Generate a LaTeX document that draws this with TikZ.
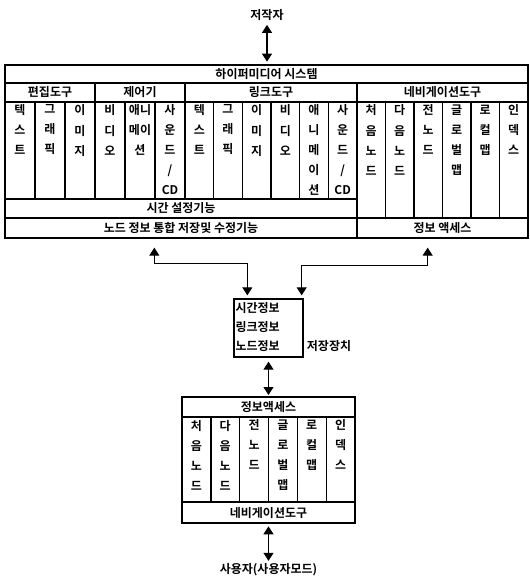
\documentclass[tikz,border=0pt]{standalone}
\usepackage{fontspec}
\setmainfont{Noto Sans CJK KR}[BoldFont={Noto Sans CJK KR Bold}]
\usepackage{tikz}
\usetikzlibrary{arrows.meta, positioning, fit, calc}

\begin{document}
\begin{tikzpicture}[
  x=0.75pt, y=-0.75pt,
  txt/.style={font=\bfseries\fontsize{9}{15}\selectfont, inner sep=0pt},
  cell/.style={draw, line width=1pt, inner sep=0pt},
  ctxt/.style={label={[txt]center:#1}},
  vtxt/.style={txt, anchor=north, align=center},
  arrow/.style={{Triangle[length=6pt,width=7.5pt]}-{Triangle[length=6pt,width=7.5pt]}, line width=0.8pt},
]
\useasboundingbox (0,0) rectangle (529,577);

% author
\node[txt] (author) at (267,15) {저작자};

% hypermedia system
\node[cell, fit={(5,65) (528,238)}] (sys) {};
\node[cell, fit={(5,65) (528,83)}, ctxt={하이퍼미디어 시스템}] (title) {};
\node[cell, fit={(5,83) (95,102)}, ctxt=편집도구] (edit) {};
\node[cell, fit={(95,83) (185,102)}, ctxt=제어기] (ctrl) {};
\node[cell, fit={(185,83) (357,102)}, ctxt=링크도구] (link) {};
\node[cell, fit={(357,83) (528,102)}, ctxt=네비게이션도구] (navi) {};

\foreach \t [count=\i from 0] in {{텍\\스\\트},{그\\래\\픽},{이\\미\\지},{비\\디\\오},{애니\\메이\\션},{사\\운\\드\\/\\CD}} {
  \node[cell, fit={({5+30*\i},102) ({35+30*\i},199)}] (ed\i) {};
  \node[vtxt] at ([yshift=-2.5pt]ed\i.north) {\t};
}
\foreach \t [count=\i from 0] in {{텍\\스\\트},{그\\래\\픽},{이\\미\\지},{비\\디\\오},{애\\니\\메\\이\\션},{사\\운\\드\\/\\CD}} {
  \node[cell, fit={({185+172/6*\i},102) ({185+172/6*(\i+1)},199)}] (lk\i) {};
  \node[vtxt] at ([yshift=-2.5pt]lk\i.north) {\t};
}
\foreach \t [count=\i from 0] in {{처\\음\\노\\드},{다\\음\\노\\드},{전\\노\\드},{글\\로\\벌\\맵},{로\\컬\\맵},{인\\덱\\스}} {
  \node[cell, fit={({357+28.5*\i},102) ({385.5+28.5*\i},218)}] (nv\i) {};
  \node[vtxt] at ([yshift=-2.5pt]nv\i.north) {\t};
}

\node[cell, fit={(5,199) (357,218)}, ctxt={시간 설정기능}] (timeset) {};
\node[cell, fit={(5,218) (357,238)}, ctxt={노드 정보 통합 저장및 수정기능}] (nodesave) {};
\node[cell, fit={(357,218) (528,238)}, ctxt={정보 액세스}] (infoacc) {};

% storage
\node[cell, fit={(234,299) (303,357)}] (store) {};
\node[txt, anchor=north west, align=left, font=\bfseries\fontsize{9}{14}\selectfont] (storeinfo)
  at ([shift={(2,4)}]store.north west) {시간정보\\링크정보\\노드정보};
\node[txt, anchor=west] (storelbl) at ([shift={(3,-12)}]store.south east) {저장장치};

% information access
\node[cell, fit={(182,397) (355,523)}] (access) {};
\node[cell, fit={(182,397) (355,417)}, ctxt=정보액세스] (acchead) {};
\foreach \t [count=\i from 0] in {{처\\음\\노\\드},{다\\음\\노\\드},{전\\노\\드},{글\\로\\벌\\맵},{로\\컬\\맵},{인\\덱\\스}} {
  \node[cell, fit={({182+173/6*\i},417) ({182+173/6*(\i+1)},502)}] (ac\i) {};
  \node[vtxt] at ([yshift=-2.5pt]ac\i.north) {\t};
}
\node[cell, fit={(182,502) (355,523)}, ctxt=네비게이션도구] (accfoot) {};

% user
\node[txt] (user) at (268.5,570) {사용자(사용자모드)};

% connectors
\coordinate (jl) at ([shift={(150,9)}]sys.south west);
\coordinate (jr) at ([shift={(-101,9)}]sys.south east);
\draw[arrow, shorten <=3pt, shorten >=2pt] (author) -- (author |- sys.north);
\draw[arrow] (jl) -- ++(0,16) -| ([shift={(14,-3)}]store.north west);
\draw[arrow] (jr) -- ++(0,18) -| ([shift={(-2,-3)}]store.north east);
\draw[arrow, shorten <=3pt, shorten >=1pt] (store.south) -- (store.south |- access.north);
\draw[arrow, shorten <=2pt, shorten >=2pt] (access.south) -- (user);
\end{tikzpicture}
\end{document}
